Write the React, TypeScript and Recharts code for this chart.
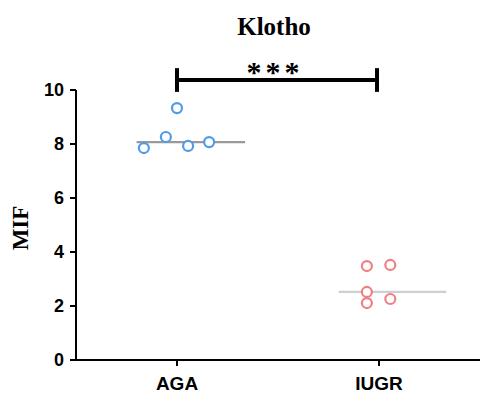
import { ComposedChart, Scatter, XAxis, YAxis, ReferenceLine } from "recharts"

const groups = ["AGA", "IUGR"]
const groupCenters = [0.5, 1.5]

// MIF values, with their horizontal spread within each group
const agaValues = [7.85, 8.26, 9.33, 7.93, 8.07]
const agaJitter = [-0.164, -0.055, 0, 0.055, 0.159]
const iugrValues = [3.48, 3.52, 2.52, 2.11, 2.26]
const iugrJitter = [-0.06, 0.056, -0.06, -0.06, 0.056]

const yTicks = [0, 2, 4, 6, 8, 10]

const median = (vals: number[]) => {
  const s = [...vals].sort((a, b) => a - b)
  return s[Math.floor(s.length / 2)]
}

const agaData = agaValues.map((v, i) => ({ x: groupCenters[0] + agaJitter[i], y: v }))
const iugrData = iugrValues.map((v, i) => ({ x: groupCenters[1] + iugrJitter[i], y: v }))

const serif = "'Liberation Serif', 'Times New Roman', serif"
const sans = "'Liberation Sans', Arial, sans-serif"

const ringShape = (color: string) => (props: any) =>
  <circle cx={props.cx} cy={props.cy} r={5} fill="#fff" stroke={color} strokeWidth={2.2} />

export default function App() {
  const sigY = 10.37
  return (
    <div style={{ position: "absolute", left: 0, top: 0, width: 481, height: 394, background: "#fff" }}>
      <ComposedChart width={481} height={394} margin={{ top: 90, right: 1, bottom: 0, left: 0 }}>
        <text x={274} y={35} textAnchor="middle" fontFamily={serif} fontWeight="bold" fontSize={25} fill="#000">
          Klotho
        </text>
        <XAxis
          type="number"
          dataKey="x"
          domain={[0, 2]}
          ticks={groupCenters}
          tickFormatter={(v: number) => groups[groupCenters.indexOf(v)]}
          height={34}
          stroke="#000"
          strokeWidth={2}
          tickSize={6}
          tickMargin={11}
          tick={{ fill: "#000", fontFamily: sans, fontWeight: "bold", fontSize: 19 }}
        />
        <YAxis
          type="number"
          dataKey="y"
          domain={[0, 10]}
          ticks={yTicks}
          width={76}
          stroke="#000"
          strokeWidth={2}
          tickSize={6}
          tickMargin={6}
          tick={{ fill: "#000", fontFamily: sans, fontWeight: "bold", fontSize: 18 }}
          label={{
            content: (p: any) => {
              const vb = p.viewBox
              const cx = vb.x + 20.5
              const cy = vb.y + vb.height / 2 + 3
              return (
                <text
                  x={cx}
                  y={cy}
                  transform={`rotate(-90 ${cx} ${cy})`}
                  textAnchor="middle"
                  dominantBaseline="central"
                  fontFamily={serif}
                  fontWeight="bold"
                  fontSize={23}
                  fill="#000"
                >
                  MIF
                </text>
              )
            },
          }}
        />
        <ReferenceLine
          segment={[{ x: groupCenters[0] - 0.2, y: median(agaValues) }, { x: groupCenters[0] + 0.337, y: median(agaValues) }]}
          stroke="#9a9a9a"
          strokeWidth={2.2}
        />
        <ReferenceLine
          segment={[{ x: groupCenters[1] - 0.2, y: median(iugrValues) }, { x: groupCenters[1] + 0.333, y: median(iugrValues) }]}
          stroke="#cfcfcf"
          strokeWidth={2.2}
        />
        <Scatter data={agaData} shape={ringShape("#4f9be8")} isAnimationActive={false} />
        <Scatter data={iugrData} shape={ringShape("#f07f82")} isAnimationActive={false} />
        {/* significance bracket */}
        <ReferenceLine
          segment={[{ x: groupCenters[0], y: sigY }, { x: groupCenters[1] - 0.01, y: sigY }]}
          stroke="#000"
          strokeWidth={4}
          ifOverflow="visible"
          label={{
            content: (p: any) => {
              const vb = p.viewBox
              return (
                <text
                  x={vb.x + vb.width / 2 - 4 + 2}
                  y={vb.y + 2}
                  textAnchor="middle"
                  fontFamily={serif}
                  fontWeight="bold"
                  fontSize={30}
                  letterSpacing={4}
                  fill="#000"
                >
                  ***
                </text>
              )
            },
          }}
        />
        <ReferenceLine
          segment={[{ x: groupCenters[0], y: 9.93 }, { x: groupCenters[0], y: 10.81 }]}
          stroke="#000"
          strokeWidth={4}
          ifOverflow="visible"
        />
        <ReferenceLine
          segment={[{ x: groupCenters[1] - 0.01, y: 9.93 }, { x: groupCenters[1] - 0.01, y: 10.81 }]}
          stroke="#000"
          strokeWidth={4}
          ifOverflow="visible"
        />
      </ComposedChart>
    </div>
  )
}
